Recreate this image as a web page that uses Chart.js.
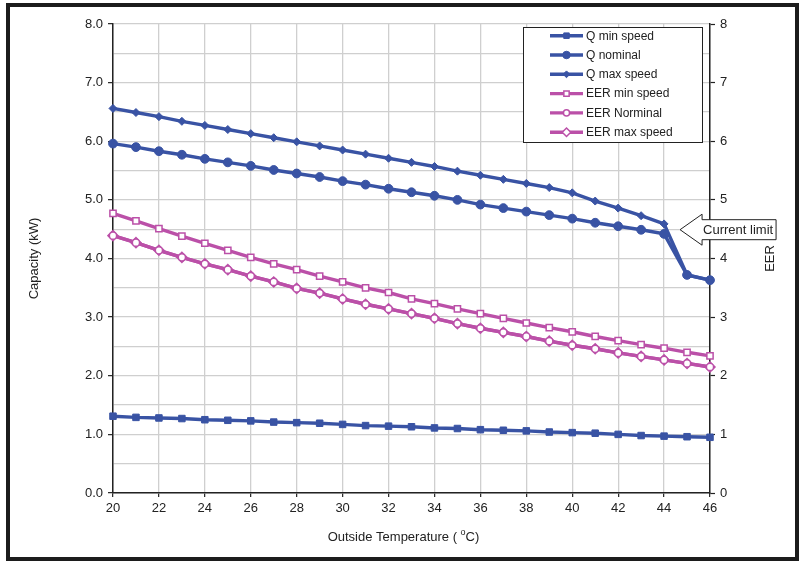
<!DOCTYPE html>
<html>
<head>
<meta charset="utf-8">
<script src="https://cdn.jsdelivr.net/npm/chart.js@4/dist/chart.umd.min.js"></script>
<style>
  html, body { margin: 0; padding: 0; background: #ffffff; }
  #wrap { position: relative; width: 807px; height: 561px; overflow: hidden; }
  #frame { position: absolute; left: 6px; top: 3px; width: 793px; height: 558px; box-sizing: border-box; border: 4.5px solid #1c1c1c; pointer-events: none; }
  canvas { position: absolute; left: 0; top: 0; }
</style>
</head>
<body>
<div id="wrap">
  <canvas id="c" width="807" height="561"></canvas>
  <div id="frame"></div>
</div>
<script>
// ---- data ----
const temperatures = [20,21,22,23,24,25,26,27,28,29,30,31,32,33,34,35,36,37,38,39,40,41,42,43,44,45,46];
const qMinSpeed   = [1.31,1.29,1.28,1.27,1.25,1.24,1.23,1.21,1.20,1.19,1.17,1.15,1.14,1.13,1.11,1.10,1.08,1.07,1.06,1.04,1.03,1.02,1.00,0.98,0.97,0.96,0.95];
const qNominal    = [5.96,5.90,5.83,5.77,5.70,5.64,5.58,5.51,5.45,5.39,5.32,5.26,5.19,5.13,5.07,5.00,4.92,4.86,4.80,4.74,4.68,4.61,4.55,4.49,4.42,3.72,3.63];
const qMaxSpeed   = [6.56,6.49,6.42,6.34,6.27,6.20,6.13,6.06,5.99,5.92,5.85,5.78,5.71,5.64,5.57,5.49,5.42,5.35,5.28,5.21,5.12,4.98,4.86,4.73,4.59,3.72,3.63];
const eerMinSpeed = [4.77,4.64,4.51,4.38,4.26,4.14,4.02,3.91,3.81,3.70,3.60,3.50,3.42,3.31,3.23,3.14,3.06,2.98,2.90,2.82,2.75,2.67,2.60,2.53,2.47,2.40,2.34];
const eerNominal  = [4.39,4.27,4.14,4.02,3.91,3.81,3.70,3.60,3.49,3.41,3.31,3.22,3.14,3.06,2.98,2.89,2.81,2.74,2.67,2.59,2.52,2.46,2.39,2.33,2.27,2.21,2.15];
const eerMaxSpeed = [4.39,4.27,4.14,4.02,3.91,3.81,3.70,3.60,3.49,3.41,3.31,3.22,3.14,3.06,2.98,2.89,2.81,2.74,2.67,2.59,2.52,2.46,2.39,2.33,2.27,2.21,2.15];
const seriesNames = ['Q min speed','Q nominal','Q max speed','EER min speed','EER Norminal','EER max speed'];
const xTitle = 'Outside Temperature ( ';
const xTitleSup = 'o';
const xTitleEnd = 'C)';
const yTitle = 'Capacity (kW)';
const y2Title = 'EER';
const calloutText = 'Current limit';
const calloutAt = { x: 44, y: 4.5 };

// ---- styles ----
const BLUE = '#3953a4';
const PINK = '#bb50a8';
const FONT = "'Liberation Sans', Arial, sans-serif";
const TXT = '#222222';

function pts(arr) { return arr.map((v, i) => ({ x: temperatures[i], y: v })); }

const dsStyle = [
  { c: BLUE, ps: 'rect',    r: 4.6, fill: BLUE,  bw: 1,   axis: 'y'  },
  { c: BLUE, ps: 'circle',  r: 4.4, fill: BLUE,  bw: 1,   axis: 'y'  },
  { c: BLUE, ps: 'rectRot', r: 4.0, fill: BLUE,  bw: 1,   axis: 'y'  },
  { c: PINK, ps: 'rect',    r: 4.4, fill: '#fff', bw: 1.5, axis: 'y1' },
  { c: PINK, ps: 'circle',  r: 3.6, fill: '#fff', bw: 1.5, axis: 'y1' },
  { c: PINK, ps: 'rectRot', r: 5.0, fill: '#fff', bw: 1.5, axis: 'y1' }
];
const seriesData = [qMinSpeed, qNominal, qMaxSpeed, eerMinSpeed, eerNominal, eerMaxSpeed];

const datasets = seriesData.map((arr, i) => ({
  label: seriesNames[i],
  data: pts(arr),
  yAxisID: dsStyle[i].axis,
  borderColor: dsStyle[i].c,
  backgroundColor: dsStyle[i].fill,
  borderWidth: 3.4,
  pointStyle: dsStyle[i].ps,
  pointRadius: dsStyle[i].r,
  pointHoverRadius: dsStyle[i].r,
  pointBorderWidth: dsStyle[i].bw,
  pointBorderColor: dsStyle[i].c,
  pointBackgroundColor: dsStyle[i].fill,
  tension: 0,
  fill: false,
  clip: false
}));

const isInt = v => Math.abs(v - Math.round(v)) < 1e-6;

const extras = {
  id: 'extras',
  afterDraw(chart) {
    const ctx = chart.ctx;
    const ca = chart.chartArea;
    const xs = chart.scales.x, ys = chart.scales.y;
    ctx.save();
    // axis titles
    ctx.fillStyle = TXT;
    ctx.font = '13px ' + FONT;
    ctx.textBaseline = 'middle';
    // left
    ctx.save();
    ctx.translate(34, (ca.top + ca.bottom) / 2);
    ctx.rotate(-Math.PI / 2);
    ctx.textAlign = 'center';
    ctx.fillText(yTitle, 0, 0);
    ctx.restore();
    // right
    ctx.save();
    ctx.translate(770, (ca.top + ca.bottom) / 2);
    ctx.rotate(-Math.PI / 2);
    ctx.textAlign = 'center';
    ctx.fillText(y2Title, 0, 0);
    ctx.restore();
    // bottom with superscript
    ctx.font = '13px ' + FONT;
    const w1 = ctx.measureText(xTitle).width;
    ctx.font = '9px ' + FONT;
    const w2 = ctx.measureText(xTitleSup).width;
    ctx.font = '13px ' + FONT;
    const w3 = ctx.measureText(xTitleEnd).width;
    const total = w1 + w2 + w3;
    let tx = (ca.left + ca.right) / 2 - 8 - total / 2;
    const ty = 537;
    ctx.textAlign = 'left';
    ctx.fillText(xTitle, tx, ty);
    ctx.font = '9px ' + FONT;
    ctx.fillText(xTitleSup, tx + w1, ty - 4);
    ctx.font = '13px ' + FONT;
    ctx.fillText(xTitleEnd, tx + w1 + w2, ty);

    // legend
    const lx = 523, ly = 27, lw = 179, lh = 115;
    ctx.fillStyle = '#ffffff';
    ctx.fillRect(lx, ly, lw, lh);
    ctx.strokeStyle = '#222';
    ctx.lineWidth = 1;
    ctx.strokeRect(lx + 0.5, ly + 0.5, lw, lh);
    chart.data.datasets.forEach((ds, i) => {
      const cy = 35.7 + i * 19.3;
      ctx.strokeStyle = ds.borderColor;
      ctx.lineWidth = 3.4;
      ctx.beginPath();
      ctx.moveTo(550, cy);
      ctx.lineTo(583, cy);
      ctx.stroke();
      ctx.fillStyle = ds.pointBackgroundColor;
      ctx.strokeStyle = ds.pointBorderColor;
      ctx.lineWidth = ds.pointBorderWidth;
      Chart.helpers.drawPoint(ctx, { pointStyle: ds.pointStyle, radius: ds.pointRadius * 0.85, borderWidth: ds.pointBorderWidth, rotation: 0 }, 566.5, cy);
      ctx.fillStyle = TXT;
      ctx.font = '12px ' + FONT;
      ctx.textAlign = 'left';
      ctx.textBaseline = 'middle';
      ctx.fillText(ds.label, 586, cy + 0.5);
    });

    // callout arrow
    const px = xs.getPixelForValue(calloutAt.x) + 16;
    const py = ys.getPixelForValue(calloutAt.y) + 0.5;
    const hb = px + 22, hh = 15.5, bh = 10, br = px + 96;
    ctx.beginPath();
    ctx.moveTo(px, py);
    ctx.lineTo(hb, py - hh);
    ctx.lineTo(hb, py - bh);
    ctx.lineTo(br, py - bh);
    ctx.lineTo(br, py + bh);
    ctx.lineTo(hb, py + bh);
    ctx.lineTo(hb, py + hh);
    ctx.closePath();
    ctx.fillStyle = '#ffffff';
    ctx.fill();
    ctx.strokeStyle = '#222';
    ctx.lineWidth = 1;
    ctx.stroke();
    ctx.fillStyle = TXT;
    ctx.font = '13px ' + FONT;
    ctx.textAlign = 'left';
    ctx.textBaseline = 'middle';
    ctx.fillText(calloutText, hb + 1, py + 1);
    ctx.restore();
  }
};

new Chart(document.getElementById('c'), {
  type: 'line',
  data: { datasets },
  options: {
    responsive: false,
    animation: false,
    devicePixelRatio: 1,
    layout: { padding: { top: 24, left: 0, right: 0, bottom: 0 } },
    plugins: { legend: { display: false }, tooltip: { enabled: false } },
    scales: {
      x: {
        type: 'linear',
        min: 20, max: 46,
        afterFit: s => { s.height = 68; },
        ticks: { stepSize: 2, color: TXT, font: { family: FONT, size: 13 }, padding: 4, maxRotation: 0, autoSkip: false },
        grid: { color: '#cfcfcf', lineWidth: 1.3, tickLength: 4, tickColor: '#222', tickWidth: 1.2 },
        border: { color: '#222', width: 1.5 }
      },
      y: {
        position: 'left',
        min: 0, max: 8,
        afterFit: s => { s.width = 113; },
        ticks: {
          stepSize: 0.5, color: TXT, font: { family: FONT, size: 13 }, padding: 5,
          callback: v => isInt(v) ? v.toFixed(1) : ''
        },
        grid: {
          color: '#cfcfcf', lineWidth: 1.3, tickLength: 5,
          tickColor: c => isInt(c.tick.value) ? '#222' : 'rgba(0,0,0,0)', tickWidth: 1.2
        },
        border: { color: '#222', width: 1.5 }
      },
      y1: {
        position: 'right',
        min: 0, max: 8,
        afterFit: s => { s.width = 97; },
        ticks: {
          stepSize: 0.5, color: TXT, font: { family: FONT, size: 13 }, padding: 5,
          callback: v => isInt(v) ? String(Math.round(v)) : ''
        },
        grid: {
          drawOnChartArea: false, tickLength: 5,
          tickColor: c => isInt(c.tick.value) ? '#222' : 'rgba(0,0,0,0)', tickWidth: 1.2
        },
        border: { color: '#222', width: 1.5 }
      }
    }
  },
  plugins: [extras]
});
</script>
</body>
</html>
